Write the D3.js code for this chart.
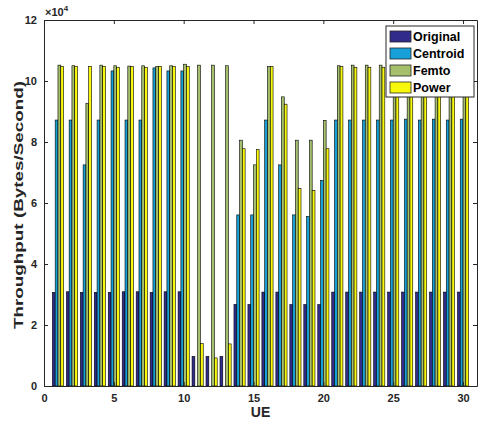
<!DOCTYPE html>
<html>
<head>
<meta charset="utf-8">
<script src="https://cdn.jsdelivr.net/npm/d3@7"></script>
<style>
  body { margin: 0; background: #fff; }
  text { font-family: "Liberation Sans", Arial, sans-serif; font-weight: bold; }
</style>
</head>
<body>
<script>
// data (throughput in units of 1e4 bytes/second)
let ues = [1,2,3,4,5,6,7,8,9,10,11,12,13,14,15,16,17,18,19,20,21,22,23,24,25,26,27,28,29,30]
let seriesNames = ['Original', 'Centroid', 'Femto', 'Power']
let original = [3.07,3.09,3.07,3.07,3.07,3.09,3.09,3.07,3.09,3.09, 0.97,0.97,0.97, 2.67,2.67,3.08,3.08,2.67,2.67,2.67, 3.08,3.08,3.08,3.08,3.08,3.08,3.08,3.08,3.08,3.08]
let centroid = [8.72,8.72,7.25,8.72,10.33,8.72,8.72,10.43,10.33,10.33, 0,0,0, 5.61,5.61,8.72,7.25,5.61,5.56,6.74, 8.72,8.72,8.72,8.72,8.72,8.75,8.72,8.75,8.72,8.75]
let femto = [10.52,10.50,9.27,10.52,10.50,10.49,10.50,10.48,10.50,10.55, 10.52,10.52,10.50, 8.06,7.25,10.47,9.48,8.06,8.06,8.71, 10.50,10.52,10.52,10.52,10.52,10.52,10.52,10.52,10.52,10.52]
let power = [10.48,10.48,10.48,10.48,10.45,10.48,10.45,10.48,10.48,10.47, 1.40,0.92,1.38, 7.78,7.76,10.47,9.24,6.47,6.41,7.78, 10.47,10.45,10.45,10.45,10.45,10.45,10.45,10.45,10.45,10.45]
let xTicks = [0,5,10,15,20,25,30]
let yTicks = [0,2,4,6,8,10,12]

let colors = {Original:'#312c8b', Centroid:'#17a0d8', Femto:'#a5bf6d', Power:'#f8f80c'}
let seriesValues = {Original:original, Centroid:centroid, Femto:femto, Power:power}

let svgWidth = 480
let svgHeight = 423
let margin = {top:20, right:3, left:44, bottom:37}
let innerWidth = svgWidth - margin.left - margin.right
let innerHeight = svgHeight - margin.top - margin.bottom

let svg = d3.select('body').append('svg')
            .attr('width', svgWidth)
            .attr('height', svgHeight)

let inner = svg.append('g')
            .attr('transform', 'translate(' + margin.left + ',' + margin.top + ')')

let xScale = d3.scaleLinear().domain([0, 31]).range([0, innerWidth])
let yScale = d3.scaleLinear().domain([0, 12]).range([innerHeight, 0])
// bars inside each UE group
let subScale = d3.scaleBand().domain(seriesNames).range([-0.4, 0.4])

// flatten into one row per bar
let rows = []
seriesNames.forEach(s => {
    seriesValues[s].forEach((v, i) => rows.push({ue: ues[i], series: s, value: v}))
})

inner.selectAll('.bar')
    .data(rows)
    .join('rect')
    .classed('bar', true)
    .attr('x', d => xScale(d.ue + subScale(d.series)))
    .attr('width', d => xScale(d.ue + subScale(d.series) + subScale.bandwidth()) - xScale(d.ue + subScale(d.series)))
    .attr('y', d => yScale(d.value))
    .attr('height', d => yScale(0) - yScale(d.value))
    .style('fill', d => colors[d.series])
    .style('stroke', '#000')
    .style('stroke-width', 0.6)

// axes, matlab style: ticks inward on all four sides
let tickLen = 4
let styleAxis = (g) => {
    g.selectAll('path').attr('stroke', '#262626')
    g.selectAll('line').attr('stroke', '#262626')
    g.selectAll('text').style('font-size', '11px').attr('fill', '#262626')
}

inner.append('g')
    .attr('transform', 'translate(0,' + innerHeight + ')')
    .call(d3.axisBottom(xScale).tickValues(xTicks).tickSizeInner(-tickLen).tickSizeOuter(0).tickPadding(8))
    .call(styleAxis)

inner.append('g')
    .call(d3.axisTop(xScale).tickValues(xTicks).tickSizeInner(-tickLen).tickSizeOuter(0))
    .call(styleAxis)
    .call(g => g.selectAll('text').remove())

inner.append('g')
    .call(d3.axisLeft(yScale).tickValues(yTicks).tickSizeInner(-tickLen).tickSizeOuter(0).tickPadding(7))
    .call(styleAxis)

inner.append('g')
    .attr('transform', 'translate(' + innerWidth + ',0)')
    .call(d3.axisRight(yScale).tickValues(yTicks).tickSizeInner(-tickLen).tickSizeOuter(0))
    .call(styleAxis)
    .call(g => g.selectAll('text').remove())

// exponent label
let expo = inner.append('text')
    .attr('x', 1)
    .attr('y', -4)
    .style('font-size', '11px')
    .style('fill', '#262626')
expo.append('tspan').text('\u00d710')
expo.append('tspan').text('4').attr('dy', -5).style('font-size', '8px')

// axis titles
svg.append('text')
    .attr('x', margin.left + innerWidth / 2)
    .attr('y', 417)
    .attr('text-anchor', 'middle')
    .style('font-size', '14px')
    .style('fill', '#262626')
    .text('UE')

svg.append('text')
    .attr('transform', 'translate(23,' + (margin.top + innerHeight / 2 + 2) + ') rotate(-90)')
    .attr('text-anchor', 'middle')
    .attr('textLength', 248)
    .attr('lengthAdjust', 'spacingAndGlyphs')
    .style('font-size', '13px')
    .style('fill', '#262626')
    .text('Throughput (Bytes/Second)')

// legend
let legend = svg.append('g').attr('transform', 'translate(386,26)')
legend.append('rect')
    .attr('width', 88)
    .attr('height', 71)
    .style('fill', '#fff')
    .style('stroke', '#262626')
    .style('stroke-width', 1)

let items = legend.selectAll('.legend-item')
    .data(seriesNames)
    .join('g')
    .classed('legend-item', true)
    .attr('transform', (d, i) => 'translate(0,' + (5 + i * 17) + ')')

items.append('rect')
    .attr('x', 4)
    .attr('width', 21)
    .attr('height', 11)
    .style('fill', d => colors[d])
    .style('stroke', '#262626')
    .style('stroke-width', 0.8)

items.append('text')
    .attr('x', 27)
    .attr('y', 10)
    .style('font-size', '12.5px')
    .style('fill', '#000')
    .text(d => d)
</script>
</body>
</html>
